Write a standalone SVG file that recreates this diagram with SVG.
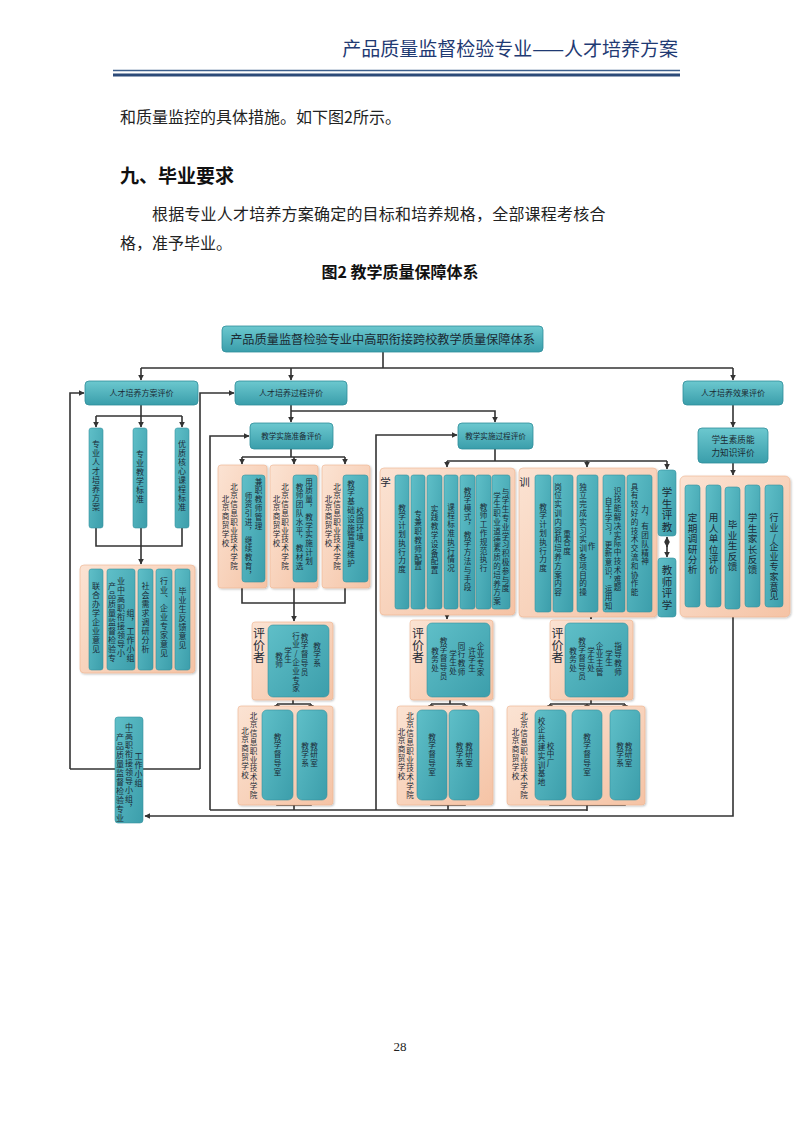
<svg xmlns="http://www.w3.org/2000/svg" width="800" height="1131" viewBox="0 0 800 1131">
<defs>
<linearGradient id="tg" x1="0" y1="0" x2="0" y2="1"><stop offset="0" stop-color="#6cc8cf"/><stop offset="1" stop-color="#3a9eab"/></linearGradient>
<linearGradient id="bg" x1="0" y1="0" x2="1" y2="1"><stop offset="0" stop-color="#5fbfc8"/><stop offset="1" stop-color="#3c9eab"/></linearGradient>
<linearGradient id="pg" x1="0" y1="0" x2="1" y2="1"><stop offset="0" stop-color="#fbe3d3"/><stop offset="1" stop-color="#f5c3a5"/></linearGradient>
<filter id="sh" x="-10%" y="-10%" width="130%" height="130%"><feDropShadow dx="1" dy="1" stdDeviation="1" flood-color="#000" flood-opacity="0.25"/></filter>
<marker id="ah" viewBox="0 0 10 10" refX="9" refY="5" markerWidth="6" markerHeight="6" markerUnits="userSpaceOnUse" orient="auto-start-reverse"><path d="M0 0 L10 5 L0 10 z" fill="#333"/></marker>
</defs>
<style>
.hd{font-family:"Noto Sans CJK SC",sans-serif;font-size:19px;fill:#1f3a73}
.bd{font-family:"Noto Sans CJK SC",sans-serif;font-size:16px;fill:#222}
.t{fill:url(#tg);stroke:#2f8d99;stroke-width:0.8}
.b{fill:url(#bg);stroke:#3592a0;stroke-width:0.6}
.p{fill:url(#pg);stroke:#efb38f;stroke-width:0.6;filter:url(#sh)}
.c{fill:none;stroke:#333;stroke-width:1.6}
.a{marker-end:url(#ah)}
.h{font-family:"Noto Sans CJK SC",sans-serif;font-size:8px;fill:#1b2a33;text-anchor:middle}
.v{writing-mode:vertical-rl;text-orientation:upright;font-family:"Noto Sans CJK SC",sans-serif;font-size:7.6px;letter-spacing:1.2px;fill:#1b2a36}
.v9{writing-mode:vertical-rl;text-orientation:upright;font-family:"Noto Sans CJK SC",sans-serif;font-size:8px;letter-spacing:1px;fill:#1b2a36}
.v2{writing-mode:vertical-rl;text-orientation:upright;font-family:"Noto Sans CJK SC",sans-serif;font-size:12px;fill:#1b2a36}
.v3{writing-mode:vertical-rl;text-orientation:upright;font-family:"Noto Sans CJK SC",sans-serif;font-size:9.6px;letter-spacing:0.8px;fill:#1b2a36}
</style>
<rect width="800" height="1131" fill="#fff"/>
<g id="page">
<text class="hd" x="678" y="56" text-anchor="end">产品质量监督检验专业——人才培养方案</text>
<line x1="113" y1="70.5" x2="680" y2="70.5" stroke="#3d5f8c" stroke-width="1.5"/>
<line x1="113" y1="75" x2="680" y2="75" stroke="#2c4a78" stroke-width="3"/>
<text class="bd" x="120" y="123">和质量监控的具体措施。如下图2所示。</text>
<text class="bd" x="120" y="183" style="font-size:19px;font-weight:bold;fill:#111">九、毕业要求</text>
<text class="bd" x="152" y="220" letter-spacing="0.2">根据专业人才培养方案确定的目标和培养规格，全部课程考核合</text>
<text class="bd" x="120" y="249">格，准予毕业。</text>
<text class="bd" x="400" y="278" text-anchor="middle" style="font-weight:bold;fill:#111">图2 教学质量保障体系</text>
<text x="400" y="1051" text-anchor="middle" font-family="Liberation Serif" font-size="13" fill="#222">28</text>
</g>
<g id="connectors">
<path class="c" d="M383 352V368M141 368H733"/>
<path class="c a" d="M141 368V380"/><path class="c a" d="M291 368V380"/><path class="c a" d="M733 368V380"/>
<path class="c" d="M141 405V416M96 416H182"/>
<path class="c a" d="M96 416V427"/><path class="c a" d="M141 416V427"/><path class="c a" d="M182 416V427"/>
<path class="c" d="M96 528V546H182V528"/><path class="c a" d="M141 528V564"/>
<path class="c" d="M70 769H200"/>
<path class="c a" d="M70 769V393H84"/><path class="c a" d="M200 769V393H234"/>
<path class="c a" d="M733 617V816H145"/>
<path class="c a" d="M291 405V422"/><path class="c a" d="M291 411H495V422"/>
<path class="c" d="M291 449V457M242 457H345"/>
<path class="c a" d="M242 457V464"/><path class="c a" d="M294 457V464"/><path class="c a" d="M345 457V464"/>
<path class="c" d="M242 588V603H345V588M294 588V603"/><path class="c a" d="M294 603V621"/>
<path class="c" d="M293 700V704M277 704H311"/>
<path class="c a" d="M277 704V710"/><path class="c a" d="M311 704V710"/>
<path class="c" d="M277 800V805H311V800M294 805V810"/>
<path class="c a" d="M210 810V436H249"/>
<path class="c" d="M495 449V461M447 461H667"/>
<path class="c a" d="M447 461V467"/><path class="c a" d="M587 461V467"/><path class="c a" d="M667 461V469"/>
<path class="c a" d="M447 615V619"/>
<path class="c" d="M450 700V704M431 704H465"/>
<path class="c a" d="M431 704V710"/><path class="c a" d="M465 704V710"/>
<path class="c" d="M431 800V805H465V800M448 805V810"/>
<path class="c a" d="M376 810V435H457"/>
<path class="c a" d="M591 617V619"/>
<path class="c" d="M591 700V704M550 704H625"/>
<path class="c a" d="M550 704V710"/><path class="c a" d="M587 704V710"/><path class="c a" d="M625 704V710"/>
<path class="c" d="M550 800V805H625V800M587 805V811M210 810H587"/>
<path class="c a" d="M667 547V537" style="marker-start:url(#ah)"/>
<path class="c a" d="M667 540V557"/>
<path class="c a" d="M733 405V427"/><path class="c a" d="M733 463V475"/>
</g>
<g id="title"><rect class="t" x="222" y="326" width="321" height="26" rx="4"/><text class="h" x="382.5" y="343.5" style="font-size:12.2px">产品质量监督检验专业中高职衔接跨校教学质量保障体系</text></g>
<g id="fangan"><rect class="t" x="85" y="381" width="113" height="24" rx="4"/><text class="h" x="141.5" y="396">人才培养方案评价</text></g>
<g id="guocheng"><rect class="t" x="235" y="381" width="112" height="24" rx="4"/><text class="h" x="291" y="396">人才培养过程评价</text></g>
<g id="xiaoguo"><rect class="t" x="683" y="381" width="100" height="24" rx="4"/><text class="h" x="733" y="396">人才培养效果评价</text></g>
<g id="std1"><rect class="b" x="89" y="428" width="14" height="100" rx="2.5"/><text class="v9" x="96" y="440">专业人才培养方案</text></g>
<g id="std2"><rect class="b" x="133" y="428" width="14" height="100" rx="2.5"/><text class="v9" x="140" y="450">专业教学标准</text></g>
<g id="std3"><rect class="b" x="175" y="428" width="14" height="100" rx="2.5"/><text class="v9" x="182" y="440">优质核心课程标准</text></g>
<g id="opinions">
<rect class="p" x="80" y="565" width="115" height="108" rx="4"/>
<rect class="b" x="89" y="569" width="14" height="101" rx="2.5"/><text class="v9" x="96" y="582">联合办学企业意见</text>
<rect class="b" x="107" y="569" width="28" height="101" rx="2.5"/><text class="v9" x="112" y="582">产品质量监督检验专</text><text class="v9" x="121" y="577">业中高职衔接领导小</text><text class="v9" x="130.5" y="609">组，工作小组</text>
<rect class="b" x="138" y="569" width="15" height="101" rx="2.5"/><text class="v9" x="145.5" y="582">社会需求调研分析</text>
<rect class="b" x="156" y="569" width="16" height="101" rx="2.5"/><text class="v9" x="164" y="577">行业、企业专家意见</text>
<rect class="b" x="175" y="569" width="15" height="101" rx="2.5"/><text class="v9" x="182.5" y="587">毕业生反馈意见</text>
</g>
<g id="leader"><rect class="b" x="115" y="717" width="28" height="106" rx="3"/><text class="v9" x="120" y="733">产品质量监督检验专业</text><text class="v9" x="129" y="723">中高职衔接领导小组，</text><text class="v9" x="138.5" y="752">工作小组</text></g>
<g id="zhunbei"><rect class="t" x="250" y="423" width="83" height="26" rx="4"/><text class="h" x="291.5" y="439" style="font-size:7.6px">教学实施准备评价</text></g>
<g id="prep1"><rect class="p" x="218" y="465" width="49" height="123" rx="3"/><text class="v" x="234" y="483">北京信息职业技术学院</text><text class="v" x="225.5" y="495">北京商贸学校</text><rect class="b" x="242" y="475" width="23" height="107" rx="3"/><text class="v" x="258.5" y="478">兼职教师管理</text><text class="v" x="248.5" y="492">师资引进，继续教育，</text></g>
<g id="prep2"><rect class="p" x="270" y="465" width="48" height="123" rx="3"/><text class="v" x="285" y="483">北京信息职业技术学院</text><text class="v" x="276.5" y="495">北京商贸学校</text><rect class="b" x="293" y="475" width="24" height="107" rx="3"/><text class="v" x="309" y="478">用质量，教学实施计划</text><text class="v" x="299.5" y="483">教师团队水平，教材选</text></g>
<g id="prep3"><rect class="p" x="322" y="465" width="48" height="123" rx="3"/><text class="v" x="337" y="483">北京信息职业技术学院</text><text class="v" x="328.5" y="495">北京商贸学校</text><rect class="b" x="343" y="475" width="25" height="107" rx="3"/><text class="v" x="360" y="507">校园环境</text><text class="v" x="351" y="480">教学基础设施管理维护</text></g>
<g id="eval1"><rect class="p" x="252" y="622" width="81" height="78" rx="3"/><text class="v2" x="259" y="627">评价者</text><rect class="b" x="268" y="625" width="61" height="72" rx="5"/><text class="v" x="279" y="652">教师</text><text class="v" x="288" y="647">学生</text><text class="v" x="296" y="632">行业/企业专家</text><text class="v" x="304.5" y="633">教学督导员</text><text class="v" x="317" y="642">教学系</text></g>
<g id="org1"><rect class="p" x="238" y="706" width="95" height="99" rx="3"/><text class="v" x="253.5" y="712">北京信息职业技术学院</text><text class="v" x="245" y="727">北京商贸学校</text><rect class="b" x="262" y="710" width="31" height="90" rx="5"/><text class="v" x="277.5" y="733">教学督导室</text><rect class="b" x="297" y="710" width="30" height="90" rx="5"/><text class="v" x="314" y="742">教研室</text><text class="v" x="305" y="742">教学系</text></g>
<g id="shishi"><rect class="t" x="458" y="423" width="75" height="26" rx="4"/><text class="h" x="495.5" y="439" style="font-size:7.6px">教学实施过程评价</text></g>
<g id="xue"><rect class="p" x="380" y="468" width="135" height="147" rx="4"/><text class="v" x="385.5" y="477" style="font-size:10.5px">学</text>
<rect class="b" x="395" y="475" width="14" height="134" rx="2.5"/><text class="v" x="402" y="504">教学计划执行力度</text>
<rect class="b" x="411" y="475" width="14" height="134" rx="2.5"/><text class="v" x="418" y="510">专兼职教师配置</text>
<rect class="b" x="427" y="475" width="15" height="134" rx="2.5"/><text class="v" x="434.5" y="505">实践教学设备配置</text>
<rect class="b" x="444" y="475" width="14" height="134" rx="2.5"/><text class="v" x="451" y="503">课程标准执行情况</text>
<rect class="b" x="460" y="475" width="15" height="134" rx="2.5"/><text class="v" x="467.5" y="487">教学模式，教学方法与手段</text>
<rect class="b" x="476" y="475" width="15" height="134" rx="2.5"/><text class="v" x="483.5" y="503">教师工作规范执行</text>
<rect class="b" x="492" y="475" width="18" height="134" rx="2.5"/><text class="v" x="505.5" y="488">与学生专业学习积极参与度</text><text class="v" x="497" y="492">学生职业道德素质的培养方案</text></g>
<g id="eval2"><rect class="p" x="410" y="620" width="83" height="80" rx="3"/><text class="v2" x="418" y="627">评价者</text><rect class="b" x="427" y="623" width="63" height="74" rx="5"/><text class="v" x="435" y="647">教务处</text><text class="v" x="443.5" y="637">教学督导员</text><text class="v" x="453" y="650">学生处</text><text class="v" x="461.5" y="642">同行教师</text><text class="v" x="472" y="647">许学生</text><text class="v" x="480.5" y="642">企业专家</text></g>
<g id="org2"><rect class="p" x="397" y="706" width="96" height="99" rx="3"/><text class="v" x="410" y="712">北京信息职业技术学院</text><text class="v" x="401.5" y="728">北京商贸学校</text><rect class="b" x="417" y="710" width="30" height="90" rx="5"/><text class="v" x="432" y="733">教学督导室</text><rect class="b" x="449" y="710" width="30" height="90" rx="5"/><text class="v" x="469" y="742">教研室</text><text class="v" x="459.5" y="742">教学系</text></g>
<g id="xun"><rect class="p" x="519" y="468" width="138" height="149" rx="4"/><text class="v" x="524.5" y="477" style="font-size:10.5px">训</text>
<rect class="b" x="535" y="475" width="16" height="137" rx="2.5"/><text class="v" x="543" y="503">教学计划执行力度</text>
<rect class="b" x="553" y="475" width="20" height="137" rx="2.5"/><text class="v" x="558" y="483">岗位实训内容和培养方案内容</text><text class="v" x="567" y="530">重合度</text>
<rect class="b" x="577" y="475" width="21" height="137" rx="2.5"/><text class="v" x="583" y="483">独立完成实习实训各项目的操</text><text class="v" x="591.5" y="542">作</text>
<rect class="b" x="603" y="475" width="22" height="137" rx="2.5"/><text class="v" x="608.5" y="497">自主学习，更新意识，运用知</text><text class="v" x="617.5" y="487">识技能解决实际中技术难题</text>
<rect class="b" x="627" y="475" width="25" height="137" rx="2.5"/><text class="v" x="634.5" y="483">具有较好的技术交流和协作能</text><text class="v" x="645" y="505">力，有团队精神</text></g>
<g id="pingjiao"><rect class="b" x="658" y="470" width="18" height="66" rx="3"/><text class="v" x="667" y="487" style="font-size:10.5px;letter-spacing:1px">学生评教</text></g>
<g id="pingxue"><rect class="b" x="658" y="558" width="18" height="59" rx="3"/><text class="v" x="667" y="565" style="font-size:10.5px;letter-spacing:1px">教师评学</text></g>
<g id="eval3"><rect class="p" x="550" y="620" width="83" height="80" rx="3"/><text class="v2" x="557.5" y="627">评价者</text><rect class="b" x="565" y="623" width="63" height="74" rx="5"/><text class="v" x="573" y="647">教务处</text><text class="v" x="582" y="637">教学督导员</text><text class="v" x="591" y="647">学生处</text><text class="v" x="599.5" y="642">企业主管</text><text class="v" x="609" y="650">学生</text><text class="v" x="618" y="642">指导教师</text></g>
<g id="org3"><rect class="p" x="507" y="706" width="138" height="99" rx="3"/><text class="v" x="524" y="712">北京信息职业技术学院</text><text class="v" x="515.5" y="728">北京商贸学校</text><rect class="b" x="535" y="710" width="31" height="90" rx="5"/><text class="v" x="541.5" y="717">校企共建实训基地</text><text class="v" x="550.5" y="742">校中厂</text><rect class="b" x="572" y="710" width="30" height="90" rx="5"/><text class="v" x="587" y="733">教学督导室</text><rect class="b" x="610" y="710" width="30" height="90" rx="5"/><text class="v" x="628.5" y="742">教研室</text><text class="v" x="620" y="742">教学系</text></g>
<g id="suzhi"><rect class="t" x="698" y="428" width="70" height="35" rx="4"/><text class="h" x="733" y="443" style="font-size:8.6px">学生素质能</text><text class="h" x="733" y="456" style="font-size:8.6px">力知识评价</text></g>
<g id="effect"><rect class="p" x="680" y="476" width="110" height="141" rx="5"/>
<rect class="b" x="685" y="485" width="15" height="122" rx="3"/><text class="v3" x="692.5" y="513">定期调研分析</text>
<rect class="b" x="706" y="485" width="15" height="122" rx="3"/><text class="v3" x="713.5" y="513">用人单位评价</text>
<rect class="b" x="725" y="487" width="15" height="122" rx="3"/><text class="v3" x="732.5" y="520">毕业生反馈</text>
<rect class="b" x="745" y="485" width="15" height="122" rx="3"/><text class="v3" x="752.5" y="513">学生家长反馈</text>
<rect class="b" x="765" y="485" width="18" height="122" rx="3"/><text class="v3" x="774" y="513" style="font-size:9px">行业/企业专家意见</text></g>
</svg>
